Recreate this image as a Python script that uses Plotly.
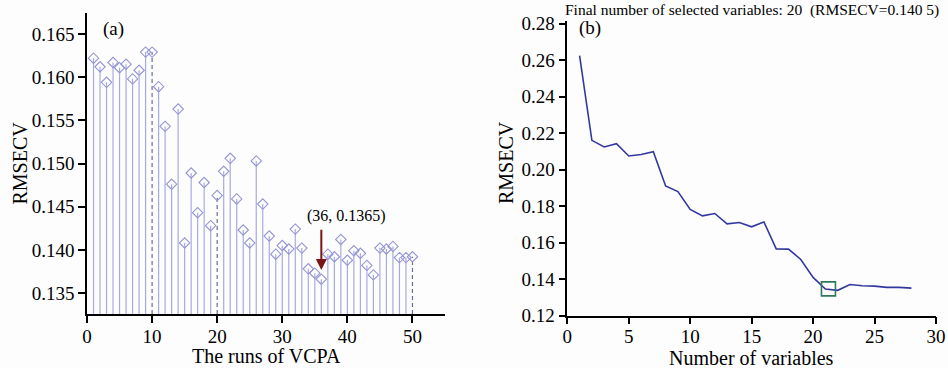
import plotly.graph_objects as go

# ---------------- data ----------------
runs = list(range(1, 51))
rmsecv_runs = [0.1622, 0.1612, 0.1594, 0.1617, 0.1611, 0.1615, 0.1598, 0.1608, 0.1629, 0.1629,
               0.1589, 0.1543, 0.1476, 0.1563, 0.1408, 0.1489, 0.1443, 0.1478, 0.1428, 0.1463,
               0.1491, 0.1506, 0.1459, 0.1423, 0.1408, 0.1503, 0.1453, 0.1416, 0.1395, 0.1405,
               0.1401, 0.1424, 0.1402, 0.1378, 0.1373, 0.1366, 0.1395, 0.1392, 0.1412, 0.1388,
               0.1399, 0.1396, 0.1382, 0.1371, 0.1402, 0.1401, 0.1404, 0.1391, 0.1391, 0.1392]
dashed_runs = [10, 20, 50]
best_run = 36
best_run_label = "(36, 0.1365)"

n_vars = list(range(1, 29))
rmsecv_vars = [0.2625, 0.2161, 0.2125, 0.2143, 0.2075, 0.2083, 0.2099, 0.1911, 0.1880, 0.1782,
               0.1747, 0.1760, 0.1703, 0.1711, 0.1687, 0.1714, 0.1566, 0.1565, 0.1508, 0.1410,
               0.1346, 0.1339, 0.1371, 0.1364, 0.1362, 0.1355, 0.1355, 0.1351]
selected_point = (21.25, 0.1347)
title_b = "Final number of selected variables: 20 \u00a0(RMSECV=0.140 5)"

ya_range = [0.13257, 0.16743]
FONT = "Liberation Serif"

fig = go.Figure()

# stems
sx, sy, dx, dy = [], [], [], []
for r, v in zip(runs, rmsecv_runs):
    if r in dashed_runs:
        dx += [r, r, None]; dy += [ya_range[0], v, None]
    else:
        sx += [r, r, None]; sy += [ya_range[0], v, None]
fig.add_trace(go.Scatter(x=sx, y=sy, mode="lines", line=dict(color="#a9a9e2", width=1.2),
                         xaxis="x", yaxis="y", showlegend=False, hoverinfo="skip"))
fig.add_trace(go.Scatter(x=dx, y=dy, mode="lines", line=dict(color="#6c6c96", width=1.2, dash="4px,3px"),
                         xaxis="x", yaxis="y", showlegend=False, hoverinfo="skip"))
fig.add_trace(go.Scatter(x=runs, y=rmsecv_runs, mode="markers",
                         marker=dict(symbol="diamond-open", size=8, color="#9494d4", line=dict(width=1.1)),
                         xaxis="x", yaxis="y", showlegend=False))

# panel b
fig.add_trace(go.Scatter(x=n_vars, y=rmsecv_vars, mode="lines", line=dict(color="#3338a0", width=1.6),
                         xaxis="x2", yaxis="y2", showlegend=False))
fig.add_trace(go.Scatter(x=[selected_point[0]], y=[selected_point[1]], mode="markers",
                         marker=dict(symbol="square-open", size=14, color="#2f7a5c", line=dict(width=1.6)),
                         xaxis="x2", yaxis="y2", showlegend=False))

W, H = 948, 368
axis_common = dict(showline=True, linecolor="black", linewidth=1.5, ticks="outside", ticklen=7,
                   tickwidth=1.5, tickcolor="black", showgrid=False, zeroline=False, automargin=False,
                   tickfont=dict(family=FONT, size=19, color="black"))

fig.update_layout(
    width=W, height=H, margin=dict(l=0, r=0, t=0, b=0, autoexpand=False),
    paper_bgcolor="#fdfdfd", plot_bgcolor="#fdfdfd",
    font=dict(family=FONT, color="black"),
    xaxis=dict(domain=[87 / W, 445 / W], range=[0, 55], tickvals=[0, 10, 20, 30, 40, 50],
               anchor="y", ticklabelstandoff=-3, **axis_common),
    yaxis=dict(domain=[1 - 314 / H, 1 - 13 / H], range=ya_range,
               tickvals=[0.135, 0.140, 0.145, 0.150, 0.155, 0.160, 0.165], tickformat=".3f",
               anchor="x", **axis_common),
    xaxis2=dict(domain=[567.3 / W, 936 / W], range=[0, 30], tickvals=[0, 5, 10, 15, 20, 25, 30],
                anchor="y2", ticklabelstandoff=-4, **axis_common),
    yaxis2=dict(domain=[1 - 315.7 / H, 1 - 21 / H], range=[0.12, 0.2815],
                tickvals=[0.12, 0.14, 0.16, 0.18, 0.20, 0.22, 0.24, 0.26, 0.28], tickformat=".2f",
                anchor="x2", **axis_common),
)

ann = [
    dict(text="(a)", x=113 / W, y=1 - 29 / H, xref="paper", yref="paper", showarrow=False,
         font=dict(size=19), xanchor="center", yanchor="middle"),
    dict(text="(b)", x=590 / W, y=1 - 28 / H, xref="paper", yref="paper", showarrow=False,
         font=dict(size=19), xanchor="center", yanchor="middle"),
    dict(text=title_b, x=752 / W, y=1 - 10 / H, xref="paper", yref="paper", showarrow=False,
         font=dict(size=15.5), xanchor="center", yanchor="middle"),
    dict(text="RMSECV", x=19.5 / W, y=1 - 163 / H, xref="paper", yref="paper", showarrow=False,
         font=dict(size=20), textangle=-90, xanchor="center", yanchor="middle"),
    dict(text="RMSECV", x=506 / W, y=1 - 163 / H, xref="paper", yref="paper", showarrow=False,
         font=dict(size=20), textangle=-90, xanchor="center", yanchor="middle"),
    dict(text="The runs of VCPA", x=266 / W, y=1 - 356 / H, xref="paper", yref="paper", showarrow=False,
         font=dict(size=20), xanchor="center", yanchor="middle"),
    dict(text="Number of variables", x=751.5 / W, y=1 - 357.5 / H, xref="paper", yref="paper",
         showarrow=False, font=dict(size=20), xanchor="center", yanchor="middle"),
    dict(text=best_run_label, x=best_run + 3.8, y=0.1439, xref="x", yref="y", showarrow=False,
         font=dict(size=16), xanchor="center", yanchor="middle"),
    dict(text="", x=best_run, y=0.13766, ax=best_run, ay=0.1425, xref="x", yref="y",
         axref="x", ayref="y", showarrow=True, arrowhead=2, arrowsize=1.1, arrowwidth=2,
         arrowcolor="#7a1416"),
]
fig.update_layout(annotations=ann)

fig.write_html("out.html", config={"displayModeBar": False},
               post_script="document.body.style.margin='0';document.body.style.overflow='hidden';")
